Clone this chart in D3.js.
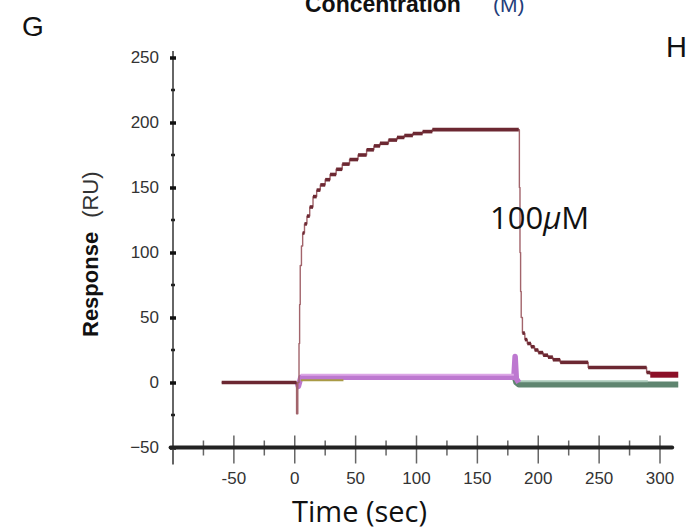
<!DOCTYPE html>
<html><head><meta charset="utf-8">
<script src="https://cdn.jsdelivr.net/npm/d3@7"></script>
<style>body{margin:0;background:#fff}svg{display:block}</style>
</head><body>
<svg id="c" width="688" height="531"></svg>
<script>
// ---- data ----
const xTicks = [-100,-75,-50,-25,0,25,50,75,100,125,150,175,200,225,250,275,300];
const xLabels = [-50,0,50,100,150,200,250,300];
const yMajor = [-50,0,50,100,150,200,250];
const yMinor = [-25,25,75,125,175,225];

// 100 µM sensorgram (time s, response RU)
const mainTime = [-60,1.5,2.5,3.5,4,4.5,5.5,6.5,8,10,12.3,15,18,21,25,29,34,39,45,52,59,65,70,77,84,90,97,105,113,184,184.5,185,185.5,186,187,189,191,194,197,200,204,208,212,218,241,289,292];
const mainResp = [0,-24,0,30,60,90,105,115,122,128,135,143,148,152,156,160,164,168,171.5,175,179,182,184,186.5,188.5,190,191.5,193,194.5,194.5,150,100,70,50,38,33,30,27.5,25,23,21,19.5,17.5,15.5,11.5,7.7,6];
const tailTime = [292,315];
const tailResp = [6,6];

// lower concentrations
const lowTime   = [2,3,5,10,40,180,181,182,184,187,290,315];
const lowPurple = [0,-3,4,4,4,4,20,3,0,null,null,null];
const lowLilac  = [null,null,6,6,6,6,null,null,null,null,null,null];
const lowOlive  = [null,null,1.8,1.8,1.8,null,null,null,null,null,null,null];
const lowGreen  = [null,null,null,null,null,3,3,0,-1.5,-1.5,-1.5,-1.5];
const lowTeal   = [null,null,null,null,null,null,null,null,0.9,0.9,0.9,null];

const svg=d3.select("#c");
const x=d3.scaleLinear().domain([-100,300]).range([173,660]);
const y=d3.scaleLinear().domain([-50,250]).range([447.5,57.5]);
const font="Arial, 'Liberation Sans', sans-serif";
const sans2="'Open Sans', 'Noto Sans', sans-serif";

// ---- axes ----
svg.append("line").attr("x1",x(-100)).attr("x2",x(-100)).attr("y1",y(255)).attr("y2",y(-63))
  .attr("stroke","#333").attr("stroke-width",1.5);
const yAx=d3.axisLeft(y).tickValues(yMajor).tickSize(0).tickPadding(14);
const gy=svg.append("g").attr("transform",`translate(${x(-100)},0)`).call(yAx);
gy.select(".domain").remove();
gy.selectAll("text").attr("font-family",font).attr("font-size",17).attr("fill","#333");
gy.selectAll(".tick").append("line").attr("x1",-3).attr("x2",3).attr("stroke","#111").attr("stroke-width",3.5);
svg.append("g").selectAll("line").data(yMinor).join("line")
  .attr("x1",x(-100)-2).attr("x2",x(-100)+2).attr("y1",d=>y(d)).attr("y2",d=>y(d))
  .attr("stroke","#222").attr("stroke-width",2.5);

const x0=y(-50);
svg.append("g").selectAll("line").data(xTicks).join("line")
  .attr("x1",d=>x(d)).attr("x2",d=>x(d))
  .attr("y1",d=>d%50===0?x0-12:x0-7).attr("y2",d=>d%50===0?x0+16:x0+8)
  .attr("stroke","#666").attr("stroke-width",1.5);
svg.append("line").attr("x1",x(-102)).attr("x2",x(310)).attr("y1",x0).attr("y2",x0)
  .attr("stroke","#222").attr("stroke-width",4).attr("stroke-linecap","round");
svg.append("g").selectAll("text").data(xLabels).join("text")
  .attr("x",d=>x(d)).attr("y",x0+36).attr("text-anchor","middle")
  .attr("font-family",font).attr("font-size",17).attr("fill","#333").text(d=>d);

// ---- series ----
function draw(tArr,vArr,color,width,curve){
  const pts=tArr.map((t,i)=>[t,vArr[i]]);
  const line=d3.line().defined(d=>d[1]!==null).x(d=>x(d[0])).y(d=>y(d[1])).curve(curve||d3.curveLinear);
  svg.append("path").datum(pts).attr("d",line).attr("fill","none")
    .attr("stroke",color).attr("stroke-width",width).attr("stroke-linejoin","round");
}
draw(lowTime,lowGreen,"#5f8570",6);
draw(lowTime,lowTeal,"#a9c8b8",2);
draw(lowTime,lowPurple,"#bd78d0",5.5);
draw(lowTime,lowLilac,"#dca6e6",2);
draw(lowTime,lowOlive,"#a99a45",2);
// main: thin light risers + thick dark steps
draw(mainTime,mainResp,"#a2646b",1.4,d3.curveStepAfter);
const steps=mainTime.slice(0,-1).map((t,i)=>({t0:t,t1:mainTime[i+1],v:mainResp[i]}))
  .filter(s=>x(s.t1)-x(s.t0)>1.5);
svg.append("g").selectAll("line").data(steps).join("line")
  .attr("x1",s=>x(s.t0)).attr("x2",s=>x(s.t1)).attr("y1",s=>y(s.v)).attr("y2",s=>y(s.v))
  .attr("stroke","#6c2832").attr("stroke-width",3.6);
draw(tailTime,tailResp,"#8c1028",6);

// ---- texts ----
svg.append("text").attr("x",305).attr("y",12).attr("font-family",font).attr("font-weight","bold")
  .attr("font-size",23).attr("fill","#111").text("Concentration");
svg.append("text").attr("x",493).attr("y",12).attr("font-family",font)
  .attr("font-size",21).attr("fill","#1f3d7a").text("(M)");
svg.append("text").attr("x",22).attr("y",36).attr("font-family",font).attr("font-size",28).attr("fill","#111").text("G");
svg.append("text").attr("x",666).attr("y",57).attr("font-family",font).attr("font-size",29).attr("fill","#111").text("H");
const lab=svg.append("text").attr("x",490).attr("y",229).attr("font-family",sans2).attr("font-size",31).attr("fill","#111");
lab.append("tspan").text("100");
lab.append("tspan").attr("font-style","italic").text("µ");
lab.append("tspan").text("M");
svg.append("text").attr("x",292).attr("y",522).attr("font-family",sans2)
  .attr("font-size",29).attr("fill","#111").text("Time (sec)");
const yl=svg.append("text").attr("transform","translate(98,337) rotate(-90)").attr("font-family",font).attr("font-size",22).attr("fill","#111");
yl.append("tspan").attr("font-weight","bold").text("Response");
yl.append("tspan").attr("dx",14).attr("fill","#333").text("(RU)");
</script>
</body></html>
